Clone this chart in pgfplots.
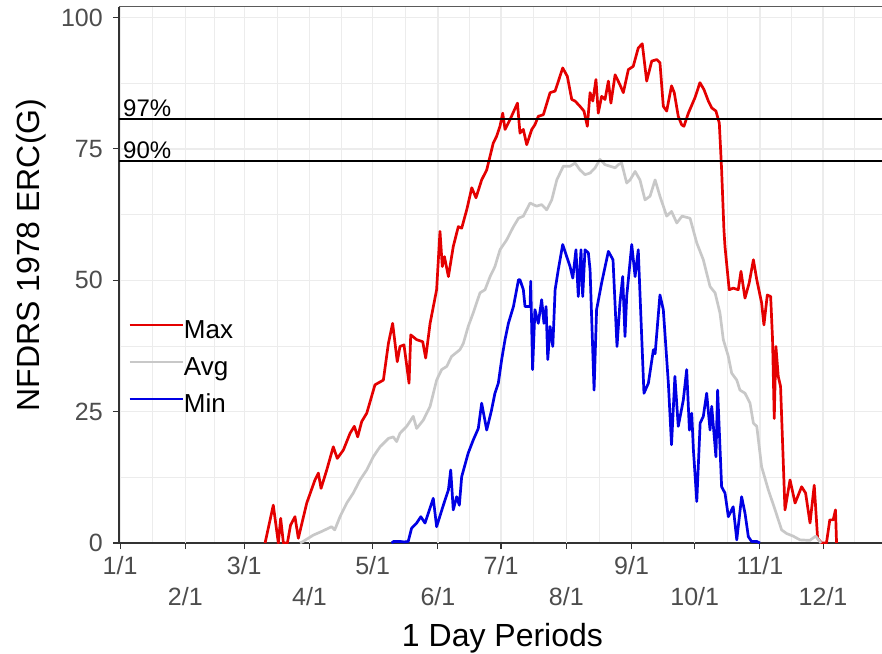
\documentclass[border=0pt]{standalone}
\usepackage{fontspec}
\setmainfont{Liberation Sans}
\usepackage{pgfplots}
\pgfplotsset{compat=1.18}
\definecolor{maxred}{RGB}{228,0,0}
\definecolor{avggray}{RGB}{200,200,200}
\definecolor{minblue}{RGB}{0,0,228}
\definecolor{tickgray}{RGB}{77,77,77}
\definecolor{gridgray}{RGB}{236,236,236}
\definecolor{axisgray}{RGB}{51,51,51}
\begin{document}
\begin{tikzpicture}
\begin{axis}[
  at={(0pt,0pt)}, anchor=south west,
  scale only axis, width=763pt, height=536pt,
  xmin=0.5, xmax=363, ymin=0, ymax=102,
  axis lines*=left,
  axis line style={axisgray, line width=1.1pt},
  tick style={axisgray, line width=1.1pt},
  tick align=outside, major tick length=6pt, minor tick length=0pt,
  ytick={0,25,50,75,100},
  minor ytick={12.5,37.5,62.5,87.5},
  xtick={1,60,121,182,244,305},
  xticklabels={1/1,3/1,5/1,7/1,9/1,11/1},
  extra x ticks={32,91,152,213,274,335},
  extra x tick labels={2/1,4/1,6/1,8/1,10/1,12/1},
  extra x tick style={grid=major, xticklabel style={yshift=-31pt}},
  minor xtick={16.5,46,75.5,106,136.5,167,197.5,228.5,259,289.5,320,350},
  grid=both,
  major grid style={gridgray, line width=1.3pt},
  minor grid style={gridgray, line width=0.7pt},
  /pgf/number format/assume math mode=true,
  tick label style={font=\fontsize{25}{25}\selectfont, text=tickgray},
  yticklabel style={inner sep=0pt, xshift=-10pt},
  xticklabel style={inner sep=0pt, yshift=-7.5pt},
  ylabel={NFDRS 1978 ERC(G)},
  ylabel style={at={(axis description cs:-0.1153,0.537)}, anchor=center, font=\fontsize{32}{32}\selectfont},
  xlabel={1 Day Periods},
  xlabel style={at={(axis description cs:0.5026,-0.194)}, anchor=base, font=\fontsize{32}{32}\selectfont},
  legend style={draw=none, fill=none, at={(axis description cs:0.0118,0.3246)}, anchor=west,
    font=\fontsize{26}{26}\selectfont, row sep=12pt, inner sep=0pt,
    nodes={inner sep=0pt, text height=19pt, text depth=6pt},
    /tikz/every even column/.append style={column sep=9pt}},
  legend cell align=left,
  legend image code/.code={\draw[#1, line width=2.8pt] (0pt,7pt) -- (53pt,7pt);},
  every axis plot/.append style={line join=round},
]
\addplot[maxred, line width=2.7pt] coordinates {
(69.9,0) (73.8,7.2) (76.2,0) (77.3,4.7) (78.6,0) (80.5,0) (82,3.4) (84.1,5) (85.7,0.9) (89.7,7.6)
(93.6,12) (95.2,13.3) (96.5,10.4) (99.2,13.9) (102.3,18.3) (104.2,16.1) (107.1,17.7) (110.3,20.9)
(112.3,22.2) (113.9,20.2) (115.8,23.1) (118.2,24.7) (119.8,26.9) (122.1,30.1) (126.1,31) (128.5,38)
(130.5,41.8) (132.7,34.5) (134,37.4) (135.9,37.7) (138.3,30.4) (139.1,39.6) (141.9,38.7) (144.8,38.3)
(146.2,35.2) (148.3,41.8) (151.4,48.2) (153,59.3) (154.1,52.6) (155.1,54.5) (157,50.7) (159.3,56.4)
(161.7,60.2) (163.3,59.9) (165.7,63.4) (168.1,67.6) (170.1,65.7) (172.8,69.1) (175.2,71) (178.3,76.1)
(179.9,77.4) (181.5,79.3) (182.8,81.8) (183.9,78.7) (186.3,80.6) (189.8,83.7) (191,78) (192.6,78.7)
(194.2,75.8) (196.6,78.7) (198.1,79.6) (199.7,81.2) (202.1,81.5) (205.3,85.7) (207.7,86) (211.3,90.4)
(213.5,88.8) (215.6,84.4) (217.2,84.1) (219.5,83.1) (221.4,82.2) (223,79.3) (224.3,85.7) (225.6,84.1)
(227.1,88.2) (228.2,81.8) (229.8,85) (231.4,84.4) (233,87.9) (234.2,83.7) (236.2,89.1) (238.5,87.2)
(240.1,85.7) (242.5,90.1) (244.8,90.7) (247.2,94.2) (249.1,95) (251.2,87.9) (253.6,91.7) (256,92)
(257.5,91.4) (259.1,83.1) (260.7,82.2) (263,87) (264.3,85.7) (266.2,81.2) (267.8,79.6) (268.9,79.3)
(271,81.8) (274.1,84.7) (276.5,87.6) (278.4,86.3) (280.5,84.1) (282.1,82.8) (284.1,82.2) (285.7,79.9)
(286.8,71) (287.9,59.6) (288.4,56.4) (290.4,48.2) (292.3,48.5) (294.7,48.2) (296,51.7) (297.9,46.6)
(299.9,49.5) (301.9,53.9) (303.5,50.1) (305.8,45.7) (306.9,41.5) (308.5,47.2) (310.1,46.9) (311,38.7)
(311.8,23.7) (312.6,37.4) (313.7,31.7) (314.8,29.8) (315.6,20.9) (316.9,6.3) (319.3,12) (321.7,7.6)
(324.8,10.7) (326.7,9.5) (328.8,3.8) (330.8,11) (332.4,0.9) (334.3,0) (336.6,0) (338.2,4.4)
(339.8,4.4) (340.9,6.3) (341.4,0)
};
\addlegendentry{Max}
\addplot[avggray, line width=2.7pt] coordinates {
(86.5,0) (88,0.3) (92.8,1.5) (96.8,2.2) (101.5,3.1) (103,2.5) (105.5,5) (108.7,7.6) (111.8,9.5)
(115,12) (118.2,13.9) (121.3,16.4) (124.5,18.3) (128.5,19.9) (130.8,20.2) (132.4,19.3) (134,20.9)
(137.2,22.2) (140.3,24.1) (141.9,21.8) (145.1,23.4) (148.3,26) (151.4,31) (153.8,33) (156.2,33.6)
(158.5,35.5) (162.5,36.8) (164.1,38) (166.4,41.2) (168.8,43.8) (172,47.6) (174.4,48.2) (176.8,50.7)
(179.1,52.6) (181.5,55.8) (184.7,57.7) (187.9,60.2) (190.3,61.8) (192.6,62.2) (195.8,64.7) (198.9,64.1)
(201.3,64.4) (203.7,63.4) (206.1,65.3) (208.5,69.1) (211.6,71.7) (214.8,71.7) (217.2,72.3) (219.5,71)
(221.9,70.1) (224.3,70.4) (226.7,71.4) (229,73) (231.4,72) (233.8,71.7) (236.2,71.4) (237.7,72)
(239.3,72.3) (241.7,68.5) (243.3,69.1) (245.7,70.7) (248,69.1) (250.4,65.3) (252.8,66) (255.2,69.1)
(257.5,66) (260.7,62.2) (263,63.1) (265.5,60.9) (268,62.2) (271.8,61.8) (275,57.1) (278.1,53.9)
(281.3,48.8) (283.7,47.6) (286,43.8) (287.6,38.7) (290,35.5) (291.6,32.3) (294,31) (295.5,29.1)
(297.9,28.5) (300.3,26.6) (301.9,22.8) (303.5,22.2) (305.8,14.5) (309,10.1) (312.2,6.3) (315.3,2.5)
(317.7,1.8) (320.8,1.3) (324,0.6) (328.7,0.5) (331.5,1.3) (334,0)
};
\addlegendentry{Avg}
\addplot[minblue, line width=2.7pt] coordinates {
(130,0) (131,0.3) (134,0.3) (136,0.2) (137.9,0.3) (139.5,2.8) (141.9,3.8) (143.9,5) (145.9,3.8)
(149.8,8.5) (151.4,3.1) (154.6,7.2) (157,10.1) (158.1,13.9) (159.3,6.3) (160.9,8.8) (162.2,7.2)
(163.3,12.6) (166.4,17.1) (168.8,19.6) (171.2,21.8) (172.8,26.6) (175.2,21.5) (177.5,25.3) (179.1,28.5)
(180.7,30.4) (182.3,34.9) (183.9,38.7) (185.5,41.8) (187.9,45) (190.3,50.1) (191,50.1) (192.6,48.2)
(193.4,45) (195.8,45) (196.1,49.8) (197,33) (198.1,44.4) (199.7,41.8) (201.3,46.3) (202.4,41.8)
(203.4,45) (204.2,34.9) (205.3,41.2) (206.6,37.4) (207.7,48.2) (209.2,52) (211.3,56.8) (213.2,54.5)
(214.8,52.6) (216.1,50.4) (217.6,55.8) (218.7,46.9) (220,55.8) (220.8,46.9) (221.9,55.8) (223.5,55.2)
(224.3,52) (226.2,29.1) (227.4,44.4) (229.8,49.5) (233,55.5) (235.2,53.9) (237.1,37.4) (238.5,45.7)
(239.8,50.7) (240.9,39.3) (241.7,46.9) (244.1,56.8) (245.7,50.7) (247.2,55.8) (248,47.6) (249.9,28.5)
(252,30.4) (254.4,36.8) (255.2,36) (257.5,47.2) (259.1,44.4) (261.5,30.4) (263,18.7)
(264.6,31.7) (266.2,22.2) (268.6,27.2) (270.2,33) (271.5,21.5) (272.6,24.7) (273.4,17.7)
(275,7.9) (276.6,22.8) (278.1,24.1) (279.7,28.5) (281.3,21.5) (282.1,26) (284.1,16.4) (284.9,29.1)
(286.8,10.7) (288.4,9.5) (290,5) (292.3,6.9) (294,0.6) (296.3,8.8) (297.9,5.7) (299.5,1.2)
(301,0.3) (303.5,0.3) (305,0)
};
\addlegendentry{Min}
\addplot[black, line width=1.8pt, forget plot] coordinates {(0.5,80.7) (363,80.7)};
\addplot[black, line width=1.8pt, forget plot] coordinates {(0.5,72.7) (363,72.7)};
\node[anchor=base west, inner sep=0pt, font=\fontsize{24}{24}\selectfont] at (axis cs:2.4,81.1) {97\%};
\node[anchor=base west, inner sep=0pt, font=\fontsize{24}{24}\selectfont] at (axis cs:2.4,73.1) {90\%};
\draw[color={rgb,255:red,90;green,90;blue,90}, line width=1pt] (rel axis cs:0,1) -- (rel axis cs:1,1);
\end{axis}
\pgfresetboundingbox
\path[use as bounding box] (-119pt,-110pt) rectangle (763pt,543pt);
\end{tikzpicture}
\end{document}
